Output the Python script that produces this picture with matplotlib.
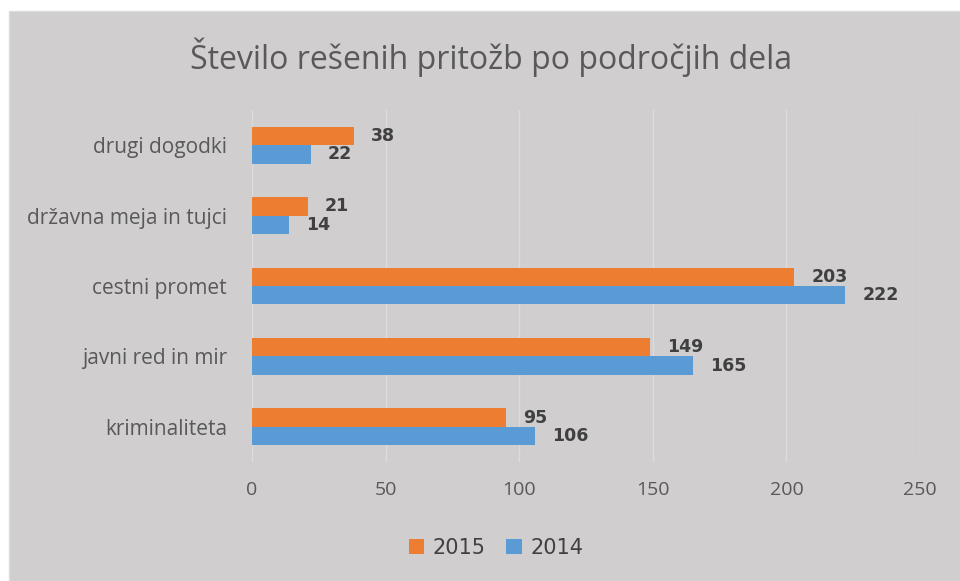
import matplotlib.pyplot as plt
import numpy as np

### Data
categories = ['kriminaliteta', 'javni red in mir', 'cestni promet',
              'državna meja in tujci', 'drugi dogodki']
vals_2015 = [95, 149, 203, 21, 38]
vals_2014 = [106, 165, 222, 14, 22]
xticks = [0, 50, 100, 150, 200, 250]

### Figure
bg = '#d0cece'
fig = plt.figure(figsize=(9.6, 5.81), dpi=100, facecolor='white')
# gray chart area with white margin at top/left
fig.patches.append(plt.Rectangle((9/960, 0), 1, 1 - 11/581, transform=fig.transFigure,
                                 facecolor=bg, edgecolor='#dcdcdc', lw=1, zorder=-5))

ax = fig.add_axes([252/960, 1 - 462/581, 668/960, 352/581])
ax.set_facecolor(bg)

pos = np.arange(len(categories))
h = 0.26
b1 = ax.barh(pos + h/2, vals_2015, height=h, color='#ED7D31', label='2015', zorder=3)
b2 = ax.barh(pos - h/2, vals_2014, height=h, color='#5B9BD5', label='2014', zorder=3)

for bars in (b1, b2):
    for r in bars:
        w = r.get_width()
        ax.annotate(str(int(w)), (w, r.get_y() + r.get_height()/2),
                    xytext=(17, 0), textcoords='offset pixels',
                    ha='left', va='center', fontsize=12.5, fontweight='bold',
                    color='#404040', family='DejaVu Sans')

ax.set_xlim(0, 250)
ax.set_ylim(-0.5, 4.5)
ax.set_xticks(xticks)
ax.set_xticklabels([str(t) for t in xticks], fontsize=14, color='#595959', family='Open Sans')
ax.set_yticks(pos)
ax.set_yticklabels(categories, fontsize=15, color='#595959', family='Open Sans')
ax.tick_params(length=0, pad=18, axis='y')
ax.tick_params(length=0, pad=14, axis='x')
ax.grid(axis='x', color='#dcdcdc', lw=1, zorder=0)
for s in ax.spines.values():
    s.set_visible(False)

fig.text(491/960, 1 - 57/581, 'Število rešenih pritožb po področjih dela', ha='center', va='center',
         fontsize=23, color='#595959', family='Open Sans')

handles = [b1, b2]
fig.legend(handles, ['2015', '2014'], loc='center', bbox_to_anchor=(496/960, 1 - 548/581),
           ncol=2, frameon=False, handlelength=0.75, handleheight=0.75,
           columnspacing=1.0, handletextpad=0.4, labelcolor='#404040',
           prop={'family': 'DejaVu Sans', 'size': 15})

fig.savefig('out.png', dpi=100, facecolor=fig.get_facecolor())
